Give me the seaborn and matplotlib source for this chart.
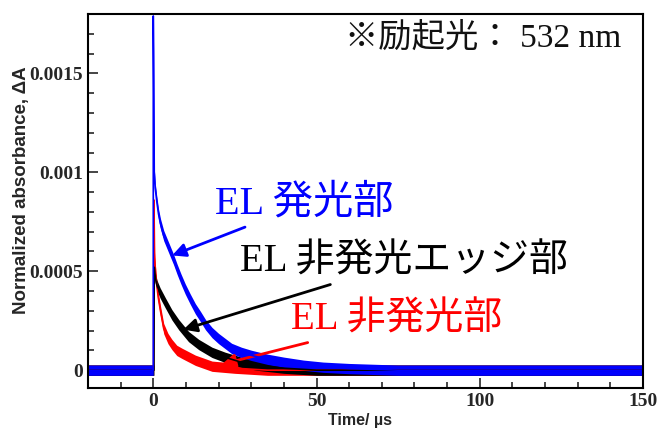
import numpy as np
import matplotlib
matplotlib.use("Agg")
import matplotlib.pyplot as plt
import seaborn as sns

# values (time in us, normalized absorbance)
time_blue = [-20, -0.05, 0.0, 0.0, 0.15, 0.3, 0.6, 1.1, 1.6, 2.2, 3.2, 4.2, 5.2, 6.2,
             7.3, 8.5, 9.8, 11.3, 12.9, 14.5, 16, 18, 20, 22, 24, 27, 30, 35, 40,
             46, 52, 60, 75, 150]
abs_blue = [0.0, 0.0, 0.0, 0.00179, 0.00146, 0.00100, 0.00092, 0.00085, 0.00079,
            0.00074, 0.00068, 0.00064, 0.00060, 0.00056, 0.00051, 0.00046, 0.00041,
            0.00036, 0.00031, 0.00027, 0.00023, 0.00019, 0.00016, 0.000135, 0.00011,
            0.00009, 0.000075, 0.000055, 0.00004, 0.000025, 0.000015, 0.000008, 0.0, 0.0]

time_black = [-20, 0.2, 0.3, 0.6, 1.1, 2.1, 3.7, 5.7, 7.8, 10.8, 13.9, 18, 22, 27,
              32, 40, 50, 150]
abs_black = [0.0, 0.0, 0.00052, 0.00047, 0.00043, 0.00039, 0.00034, 0.00028, 0.00023,
             0.00017, 0.00013, 0.00009, 0.000065, 0.00004, 0.000025, 0.00001, 0.0, 0.0]

time_red = [-20, 0.1, 0.2, 0.4, 0.8, 1.5, 2.2, 3.2, 4.5, 5.7, 7.2, 8.8, 12.9, 18,
            25, 35, 150]
abs_red = [0.0, 0.0, 0.00086, 0.00057, 0.00047, 0.00037, 0.00030, 0.00021, 0.00016,
           0.00013, 0.00010, 0.000085, 0.00005, 0.00002, 0.00001, 0.0, 0.0]

labels = ["EL 発光部", "EL 非発光エッジ部", "EL 非発光部"]
note = "※励起光： 532 nm"

sns.set_style("ticks")
plt.rcParams["font.family"] = ["Liberation Serif", "Noto Sans CJK JP"]

fig = plt.figure(figsize=(6.58, 4.29), dpi=100)
ax = fig.add_axes([0.1337, 0.0956, 0.8435, 0.8718])

band = 0.000026  # half width of the noise band
series = [(time_red, abs_red, "#ff0000"),
          (time_black, abs_black, "#000000"),
          (time_blue, abs_blue, "#0000ff")]
for t, v, c in series:
    t = np.array(t)
    v = np.array(v)
    ax.fill_between(t, v - band, v + band, color=c, lw=0)
    sns.lineplot(x=t, y=v, ax=ax, color=c, lw=1.2, sort=False, estimator=None)

ax.set_xlim(-20, 150)
ax.set_ylim(-0.00009, 0.0018)
ax.set_xticks([0, 50, 100, 150])
ax.set_xticks(np.arange(-20, 151, 10), minor=True)
ax.set_yticks([0, 0.0005, 0.001, 0.0015])
ax.set_yticklabels(["0", "0.0005", "0.001", "0.0015"])
ax.set_yticks(np.arange(0, 0.0018, 0.0001), minor=True)
ax.tick_params(which="both", direction="in", top=False, right=False, width=1.2)
ax.tick_params(which="major", length=7)
ax.tick_params(which="minor", length=4)
for lab in ax.get_xticklabels() + ax.get_yticklabels():
    lab.set_fontfamily("Liberation Serif")
    lab.set_fontweight("bold")
    lab.set_fontsize(14)
for sp in ax.spines.values():
    sp.set_linewidth(1.5)
    sp.set_color("black")

ax.set_xlabel("Time/ µs", fontfamily="Liberation Sans", fontweight="bold", fontsize=11.5)
ax.set_ylabel("Normalized absorbance, ΔA", fontfamily="Liberation Sans",
              fontweight="bold", fontsize=13.5)
ax.yaxis.set_label_coords(-0.105, 0.53)
ax.xaxis.set_label_coords(0.49, -0.068)

# annotations with arrows
arrow = dict(arrowstyle="-|>", lw=2, mutation_scale=20, shrinkA=2, shrinkB=0)
ax.annotate(labels[0], xy=(5.8, 0.00058), xytext=(19, 0.00084), color="#0000ff",
            fontsize=29, va="center", ha="left",
            arrowprops=dict(arrow, color="#0000ff"))
ax.annotate(labels[1], xy=(9.2, 0.000205), xytext=(26.6, 0.000547), color="#000000",
            fontsize=28, va="center", ha="left",
            arrowprops=dict(arrow, color="#000000"))
ax.annotate(labels[2], xy=(21, 0.00003), xytext=(42.2, 0.000253), color="#ff0000",
            fontsize=28, va="center", ha="left", zorder=1,
            arrowprops=dict(arrow, color="#ff0000"))
ax.text(58.8, 0.00168, note, fontsize=24, va="center", ha="left", color="#111111")

fig.savefig("out.png", dpi=100)
